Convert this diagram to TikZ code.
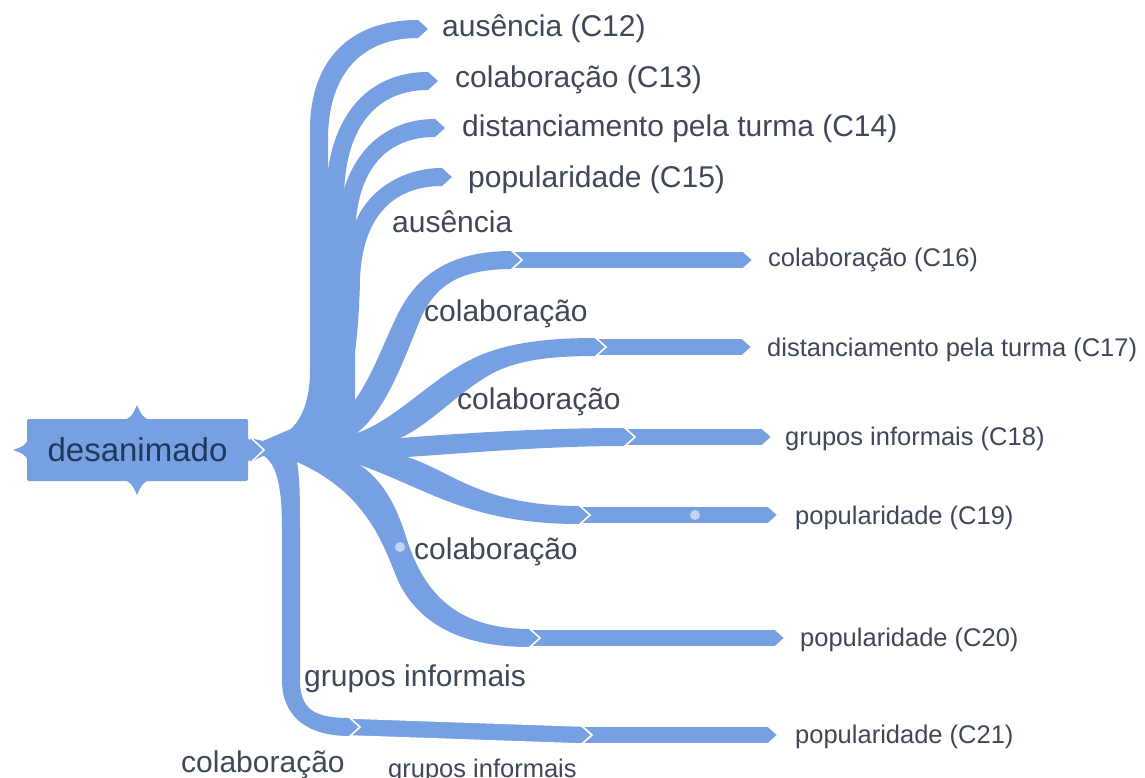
\documentclass[tikz,border=0pt]{standalone}
\usepackage{fontspec}
\setmainfont{Liberation Sans}
\definecolor{br}{RGB}{118,160,226}
\definecolor{tx}{RGB}{62,72,88}
\definecolor{rt}{RGB}{32,56,92}
\definecolor{dotc}{RGB}{196,212,240}
\tikzset{
 barseg/.style={fill=br, draw=white, line width=1.6pt, line join=miter},
 biglbl/.style={anchor=base west, inner sep=0pt, text=tx, font=\fontsize{30}{36}\selectfont},
 smalllbl/.style={anchor=base west, inner sep=0pt, text=tx, font=\fontsize{25.5}{30}\selectfont},
 rootbox/.style={fill=br, rounded corners=2pt, minimum width=221pt, minimum height=62pt, inner sep=0pt, text=rt, font=\fontsize{33}{40}\selectfont},
 lightdot/.style={fill=dotc}
}
\newcommand{\mmbar}[4]{\filldraw[barseg] (#1,#2-9) -- (#3-10,#4-9) -- (#3,#4) -- (#3-10,#4+9) -- (#1,#2+9) -- (#1+10,#2) -- cycle;}
\begin{document}
\begin{tikzpicture}[x=1pt,y=-1pt]
\useasboundingbox[fill=white] (0,0) rectangle (1145,778);

% top branches
\fill[br] (300,450) -- (263,442) .. controls (292,438) and (310,415) .. (310,370) -- (310,130) .. controls (310,60) and (350,20) .. (418,20) -- (428,29) -- (418,38) .. controls (365,38) and (328,70) .. (328,140) -- (330,420) -- cycle;
\fill[br] (300,450) -- (326,400) -- (326,200) .. controls (326,120) and (365,72) .. (428,72) -- (438,81) -- (428,90) .. controls (378,90) and (344,125) .. (344,200) -- (344,420) -- cycle;
\fill[br] (300,450) -- (337,400) -- (337,240) .. controls (337,160) and (380,119) .. (435,119) -- (445,128) -- (435,137) .. controls (390,137) and (355,165) .. (355,240) -- (355,420) -- cycle;
\fill[br] (300,450) -- (348,400) -- (348,260) .. controls (348,200) and (395,168) .. (442,168) -- (452,177) -- (442,186) .. controls (395,186) and (362,215) .. (360,280) .. controls (358,370) and (345,410) .. (330,427) -- cycle;

% middle branches
\fill[br] (300,450) -- (330,427) .. controls (365,400) and (380,350) .. (395,320) .. controls (415,275) and (450,251) .. (512,251) -- (522,260) -- (512,269) .. controls (460,269) and (435,285) .. (420,320) .. controls (400,370) and (385,410) .. (357,433) -- cycle;
\fill[br] (300,450) -- (357,433) .. controls (395,420) and (430,380) .. (470,360) .. controls (505,342) and (550,338) .. (596,338) -- (606,347) -- (596,356) .. controls (550,356) and (520,360) .. (495,372) .. controls (460,390) and (430,425) .. (400,438) -- cycle;
\fill[br] (300,450) -- (400,438) .. controls (480,432) and (550,428) .. (625,428) -- (635,437) -- (625,446) .. controls (550,446) and (480,452) .. (407,457) -- cycle;
\fill[br] (300,450) -- (407,457) .. controls (450,470) and (480,506) .. (580,506) -- (590,515) -- (580,524) .. controls (470,524) and (430,490) .. (360,465) -- cycle;
\fill[br] (300,450) -- (360,465) .. controls (385,482) and (398,510) .. (407,540) .. controls (425,595) and (458,629) .. (530,629) -- (540,638) -- (530,647) .. controls (458,647) and (420,622) .. (400,585) .. controls (385,552) and (372,495) .. (297,462) -- cycle;
\fill[br] (300,450) -- (297,462) .. controls (300,480) and (300,500) .. (300,530) -- (300,680) .. controls (300,710) and (315,718) .. (350,718) -- (360,727) -- (350,736) .. controls (305,736) and (282,715) .. (282,680) -- (282,530) .. controls (282,490) and (278,465) .. (263,455) -- cycle;

% hub
\fill[br] (250,438) -- (263,441) -- (300,425) -- (330,427) -- (357,433) -- (400,438) -- (407,457) -- (360,465) -- (297,462) -- (263,456) -- (250,462) -- cycle;

% straight bars
\mmbar{512}{260}{753}{260}
\mmbar{596}{347}{752}{347}
\mmbar{625}{437}{772}{437}
\mmbar{580}{515}{778}{515}
\mmbar{530}{638}{785}{638}
\mmbar{350}{727}{592}{735}
\mmbar{582}{735}{778}{735}

% light dots
\fill[lightdot] (695,515) circle (5);
\fill[lightdot] (400,547) circle (5);

% root node
\node[rootbox] (root) at (137.5,450) {desanimado};
\fill[br] (125,420) .. controls (132,416) .. (137,405) .. controls (142,416) .. (149,420) -- cycle;
\fill[br] (125,480) .. controls (132,484) .. (137,495) .. controls (142,484) .. (149,480) -- cycle;
\fill[br] (28,440) .. controls (24,446) .. (13,450) .. controls (24,454) .. (28,460) -- cycle;
\fill[br] (246,437) -- (262,450) -- (246,463) -- cycle;
\draw[white, line width=1.5pt] (249,436) -- (264,450) -- (249,464);

% labels
\node[biglbl] (c12) at (442,37) {ausência (C12)};
\node[biglbl] (c13) at (455,88) {colaboração (C13)};
\node[biglbl] (c14) at (462,137) {distanciamento pela turma (C14)};
\node[biglbl] (c15) at (468,187) {popularidade (C15)};
\node[biglbl] (l1) at (392,232) {ausência};
\node[biglbl] (l2) at (424,321) {colaboração};
\node[biglbl] (l3) at (457,409) {colaboração};
\node[biglbl] (l4) at (414,559) {colaboração};
\node[biglbl] (l5) at (304,686) {grupos informais};
\node[biglbl] (l6) at (181,772) {colaboração};

\node[smalllbl] (c16) at (768,266) {colaboração (C16)};
\node[smalllbl] (c17) at (767,356) {distanciamento pela turma (C17)};
\node[smalllbl] (c18) at (785,445) {grupos informais (C18)};
\node[smalllbl] (c19) at (795,524) {popularidade (C19)};
\node[smalllbl] (c20) at (800,646) {popularidade (C20)};
\node[smalllbl] (c21) at (795,743) {popularidade (C21)};
\node[smalllbl] (l7) at (388,777) {grupos informais};
\end{tikzpicture}
\end{document}
